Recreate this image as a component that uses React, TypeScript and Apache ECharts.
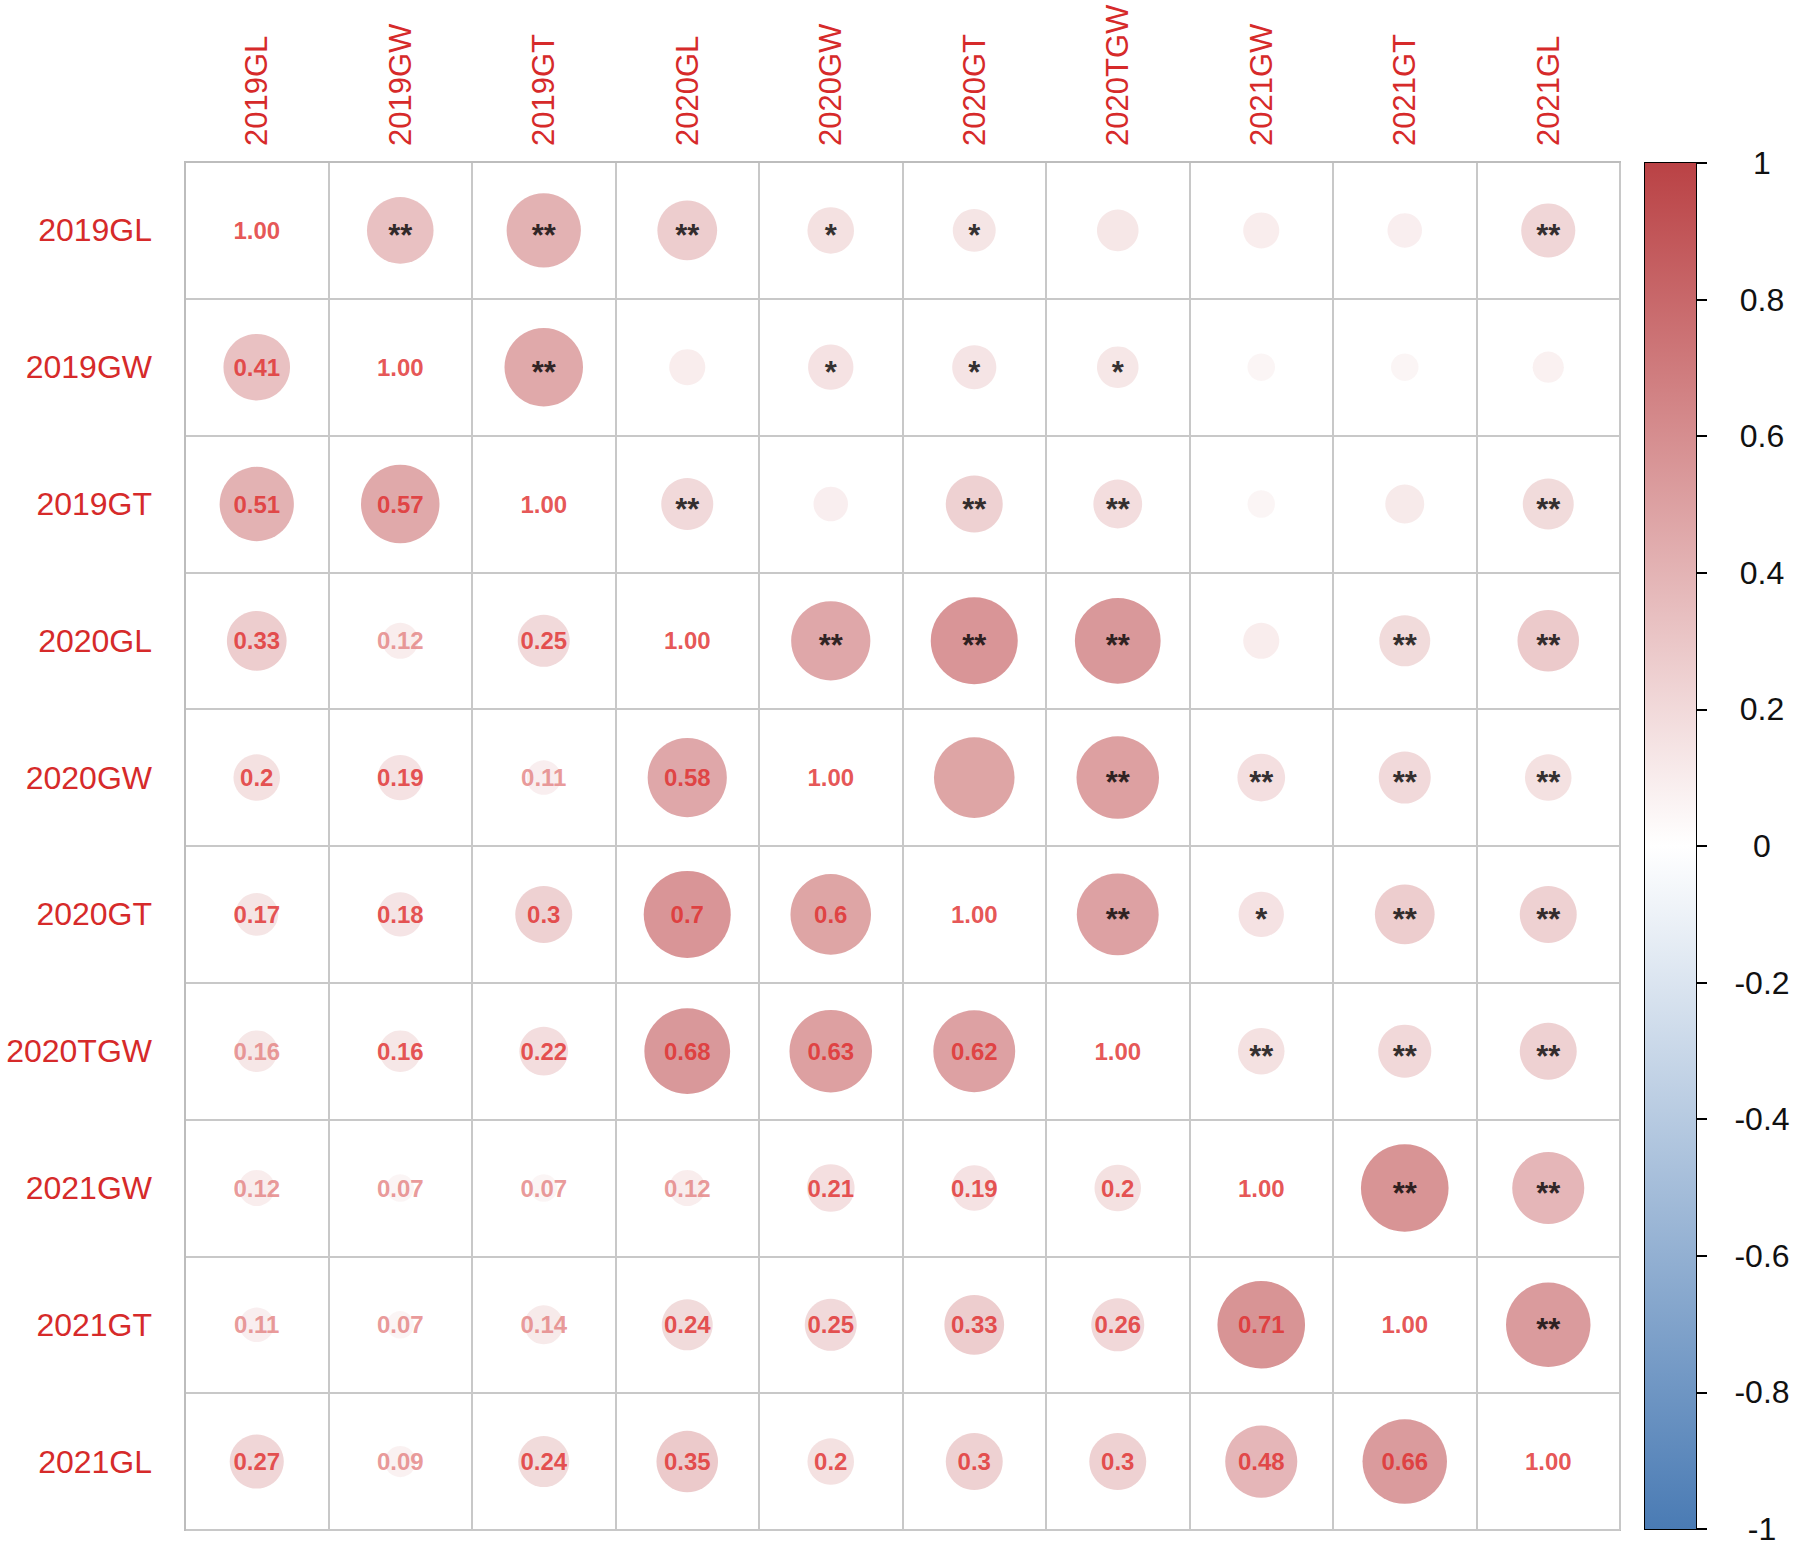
import React, { useEffect, useRef } from 'react';
import * as echarts from 'echarts';

// Variables (rows top→bottom, columns left→right)
const VARS = ['2019GL', '2019GW', '2019GT', '2020GL', '2020GW', '2020GT', '2020TGW', '2021GW', '2021GT', '2021GL'];

// Lower triangle correlation values: LOWER[row][col], col < row
const LOWER: number[][] = [
  [],
  [0.41],
  [0.51, 0.57],
  [0.33, 0.12, 0.25],
  [0.2, 0.19, 0.11, 0.58],
  [0.17, 0.18, 0.3, 0.7, 0.6],
  [0.16, 0.16, 0.22, 0.68, 0.63, 0.62],
  [0.12, 0.07, 0.07, 0.12, 0.21, 0.19, 0.2],
  [0.11, 0.07, 0.14, 0.24, 0.25, 0.33, 0.26, 0.71],
  [0.27, 0.09, 0.24, 0.35, 0.2, 0.3, 0.3, 0.48, 0.66],
];

// Upper triangle significance marks: STARS[row][k] for col = row + 1 + k
const STARS: string[][] = [
  ['**', '**', '**', '*', '*', '', '', '', '**'],
  ['**', '', '*', '*', '*', '', '', ''],
  ['**', '', '**', '**', '', '', '**'],
  ['**', '**', '**', '', '**', '**'],
  ['', '**', '**', '**', '**'],
  ['**', '*', '**', '**'],
  ['**', '**', '**'],
  ['**', '**'],
  ['**'],
];

// Lower-triangle numbers drawn in faded red (row, col)
const PALE: [number, number][] = [
  [3, 1], [4, 2], [6, 0], [7, 0], [7, 1], [7, 2], [7, 3], [8, 0], [8, 1], [8, 2], [9, 1],
];

const DIAG_LABEL = '1.00';
const COLORBAR_TOP = [1];
const COLORBAR_BOTTOM = [-1];

const FONT = '"Liberation Sans", Arial, sans-serif';
const AXIS_RED = '#D62A2A';
const NUM_RED = '#E02A2A';
const NUM_PALE = '#E38080';
const RED_END = '#BA4245';
const BLUE_END = '#4A7BB4';
const GRID_GRAY = '#C8C8C8';
const FULL_D = 104;

export default function App() {
  const ref = useRef<HTMLDivElement>(null);

  useEffect(() => {
    if (!ref.current) return;
    const chart = echarts.init(ref.current, null, { renderer: 'svg' });

    const isPale = (r: number, c: number) => PALE.some(([a, b]) => a === r && b === c);

    const lowerData: any[] = [];
    LOWER.forEach((row, i) => {
      row.forEach((v, j) => {
        lowerData.push({
          value: [j, i, v],
          label: { color: isPale(i, j) ? NUM_PALE : NUM_RED },
        });
      });
    });

    const upperData: any[] = [];
    STARS.forEach((row, i) => {
      row.forEach((s, k) => {
        const j = i + 1 + k;
        upperData.push({ value: [j, i, LOWER[j][i]], stars: s });
      });
    });

    const diagData = VARS.map((_, i) => [i, i, 1]);

    const symbolSize = (val: number[]) => FULL_D * Math.sqrt(Math.abs(val[2]));

    const option: any = {
      animation: false,
      backgroundColor: '#ffffff',
      textStyle: { fontFamily: FONT },
      grid: [
        {
          left: 185,
          top: 162,
          width: 1435,
          height: 1368,
          show: true,
          borderColor: '#BDBDBD',
          borderWidth: 2,
          backgroundColor: 'transparent',
          containLabel: false,
        },
        {
          left: 1645,
          top: 163,
          width: 51,
          height: 1366,
          show: true,
          borderColor: '#000000',
          borderWidth: 2,
          backgroundColor: 'transparent',
          containLabel: false,
        },
      ],
      xAxis: [
        {
          gridIndex: 0,
          type: 'category',
          data: VARS,
          position: 'top',
          boundaryGap: true,
          axisLine: { show: true, lineStyle: { color: '#BDBDBD', width: 2 } },
          axisTick: { show: false },
          axisLabel: {
            rotate: -90,
            interval: 0,
            color: AXIS_RED,
            fontSize: 31,
            fontFamily: FONT,
            margin: 16,
          },
          splitLine: { show: true, interval: 0, lineStyle: { color: GRID_GRAY, width: 2 } },
        },
        {
          gridIndex: 1,
          type: 'category',
          data: ['cb'],
          show: false,
        },
      ],
      yAxis: [
        {
          gridIndex: 0,
          type: 'category',
          data: VARS,
          inverse: true,
          boundaryGap: true,
          axisLine: { show: true, lineStyle: { color: '#BDBDBD', width: 2 } },
          axisTick: { show: false },
          axisLabel: {
            interval: 0,
            color: AXIS_RED,
            fontSize: 32,
            fontFamily: FONT,
            margin: 33,
          },
          splitLine: { show: true, interval: 0, lineStyle: { color: GRID_GRAY, width: 2 } },
        },
        {
          gridIndex: 1,
          type: 'value',
          min: -1,
          max: 1,
          interval: 0.2,
          position: 'right',
          axisLine: { show: false },
          axisTick: { show: true, inside: false, length: 11, lineStyle: { color: '#000', width: 2 } },
          axisLabel: {
            color: '#111',
            fontSize: 32,
            fontFamily: FONT,
            align: 'center',
            margin: 66,
            formatter: (v: number) => String(Math.round(v * 10) / 10),
          },
          splitLine: { show: false },
        },
      ],
      visualMap: {
        type: 'continuous',
        show: false,
        min: -1,
        max: 1,
        dimension: 2,
        seriesIndex: [0, 1],
        inRange: { color: [BLUE_END, '#FFFFFF', RED_END] },
      },
      series: [
        {
          name: 'lower',
          type: 'scatter',
          xAxisIndex: 0,
          yAxisIndex: 0,
          symbol: 'circle',
          symbolSize,
          data: lowerData,
          label: {
            show: true,
            position: 'inside',
            fontSize: 24,
            fontWeight: 'bold',
            fontFamily: FONT,
            formatter: (p: any) => String(p.value[2]),
          },
          emphasis: { disabled: true },
        },
        {
          name: 'upper',
          type: 'scatter',
          xAxisIndex: 0,
          yAxisIndex: 0,
          symbol: 'circle',
          symbolSize,
          data: upperData,
          label: {
            show: true,
            position: 'inside',
            fontSize: 31,
            fontWeight: 'bold',
            color: '#000',
            fontFamily: FONT,
            offset: [0, 5],
            formatter: (p: any) => p.data.stars,
          },
          emphasis: { disabled: true },
        },
        {
          name: 'diag',
          type: 'scatter',
          xAxisIndex: 0,
          yAxisIndex: 0,
          symbolSize: 0,
          data: diagData,
          itemStyle: { color: 'transparent' },
          label: {
            show: true,
            position: 'inside',
            fontSize: 24,
            fontWeight: 'bold',
            color: NUM_RED,
            fontFamily: FONT,
            formatter: () => DIAG_LABEL,
          },
          emphasis: { disabled: true },
        },
        {
          name: 'cbTop',
          type: 'bar',
          xAxisIndex: 1,
          yAxisIndex: 1,
          barWidth: '100%',
          barGap: '-100%',
          data: COLORBAR_TOP,
          itemStyle: {
            color: new echarts.graphic.LinearGradient(0, 0, 0, 1, [
              { offset: 0, color: RED_END },
              { offset: 1, color: '#FFFFFF' },
            ]),
          },
          emphasis: { disabled: true },
        },
        {
          name: 'cbBottom',
          type: 'bar',
          xAxisIndex: 1,
          yAxisIndex: 1,
          barWidth: '100%',
          barGap: '-100%',
          data: COLORBAR_BOTTOM,
          itemStyle: {
            color: new echarts.graphic.LinearGradient(0, 0, 0, 1, [
              { offset: 0, color: '#FFFFFF' },
              { offset: 1, color: BLUE_END },
            ]),
          },
          emphasis: { disabled: true },
        },
      ],
    };

    chart.setOption(option);
    return () => chart.dispose();
  }, []);

  return (
    <div
      ref={ref}
      style={{ position: 'fixed', left: 0, top: 0, width: 1794, height: 1546, background: '#fff' }}
    />
  );
}
